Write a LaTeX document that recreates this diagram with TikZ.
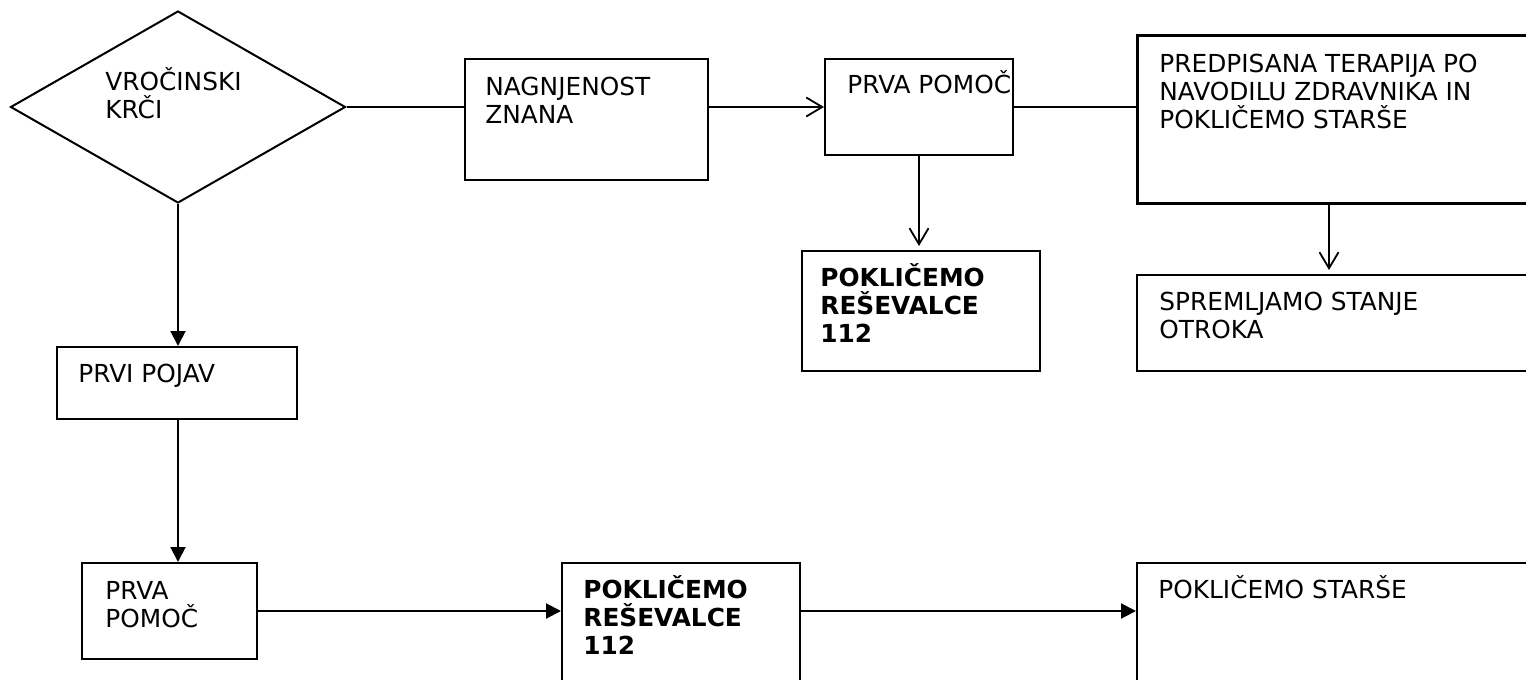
\documentclass[tikz,border=0pt]{standalone}
\usepackage{fontspec}
\setmainfont{DejaVu Sans}
\usetikzlibrary{shapes.geometric,arrows.meta}
\newcommand{\tstr}{\rule{0pt}{12pt}}
\begin{document}
\begin{tikzpicture}[x=0.5pt,y=-0.5pt,
  box/.style={draw,line width=1pt,inner sep=0pt,minimum width=#1},
  txt/.style={anchor=north west,inner sep=0pt,align=left,font=\fontsize{12.4}{14}\selectfont},
  btxt/.style={txt,font=\fontsize{12.4}{14}\selectfont\bfseries},
  conn/.style={line width=1pt},
  openarr/.style={conn,-{Straight Barb[length=8pt,width=9.5pt,line width=0.9pt]}, shorten >=2pt},
  fillarr/.style={conn,-{Triangle[length=7.5pt,width=7.5pt]}}
]
\useasboundingbox (0,0) rectangle (1526,680);
% diamond
\node[draw,line width=1pt,diamond,inner sep=0pt,minimum width=167.5pt,minimum height=96pt] (d) at (178,107) {};
\node[txt] (dt) at (105,66) {\tstr VROČINSKI\\KRČI};
% top row
\node[box=121.5pt,minimum height=60.5pt] (nag) at (586.5,119.5) {};
\node[txt] (nagt) at (485,71) {\tstr NAGNJENOST\\ZNANA};
\node[box=94pt,minimum height=48pt] (pp1) at (919,107) {};
\node[txt] (pp1t) at (847,69) {\tstr PRVA POMOČ};
\node[box=197.5pt,minimum height=84pt,line width=1.5pt] (pred) at (1334.5,119) {};
\node[txt] (predt) at (1159,48) {\tstr PREDPISANA TERAPIJA PO\\NAVODILU ZDRAVNIKA IN\\POKLIČEMO STARŠE};
\node[box=119pt,minimum height=60pt] (pk1) at (921,311) {};
\node[btxt] (pk1t) at (820,262) {\tstr POKLIČEMO\\REŠEVALCE\\112};
\node[box=197.5pt,minimum height=48pt] (spr) at (1334.5,323) {};
\node[txt] (sprt) at (1159,286) {\tstr SPREMLJAMO STANJE\\OTROKA};
% left column
\node[box=120pt,minimum height=36pt] (poj) at (177,383) {};
\node[txt] (pojt) at (78,358) {\tstr PRVI POJAV};
\node[box=87.5pt,minimum height=48pt] (pp2) at (169.5,611) {};
\node[txt] (pp2t) at (105,575) {\tstr PRVA\\POMOČ};
\node[box=119pt,minimum height=63.5pt] (pk2) at (681,626.5) {};
\node[btxt] (pk2t) at (583,574) {\tstr POKLIČEMO\\REŠEVALCE\\112};
\node[box=197.5pt,minimum height=63.5pt] (star) at (1334.5,626.5) {};
\node[txt] (start) at (1158,574) {\tstr POKLIČEMO STARŠE};
% connectors
\draw[conn] (d.east) -- (d.east -| nag.west);
\draw[openarr,shorten >=0pt] (pp1.west -| nag.east) -- (pp1.west);
\draw[conn] (pp1.east) -- (pp1.east -| pred.west);
\draw[openarr] (pp1.south) -- (pp1.south |- pk1.north);
\draw[openarr] ([xshift=-2.75pt]pred.south) -- ([xshift=-2.75pt]pred.south |- spr.north);
\draw[fillarr] (d.south) -- (d.south |- poj.north);
\draw[fillarr] ([xshift=0.5pt]poj.south) -- ([xshift=0.5pt]poj.south |- pp2.north);
\draw[fillarr] (pp2.east) -- (pp2.east -| pk2.west);
\draw[fillarr] (pp2.east -| pk2.east) -- (pp2.east -| star.west);
\end{tikzpicture}
\end{document}
